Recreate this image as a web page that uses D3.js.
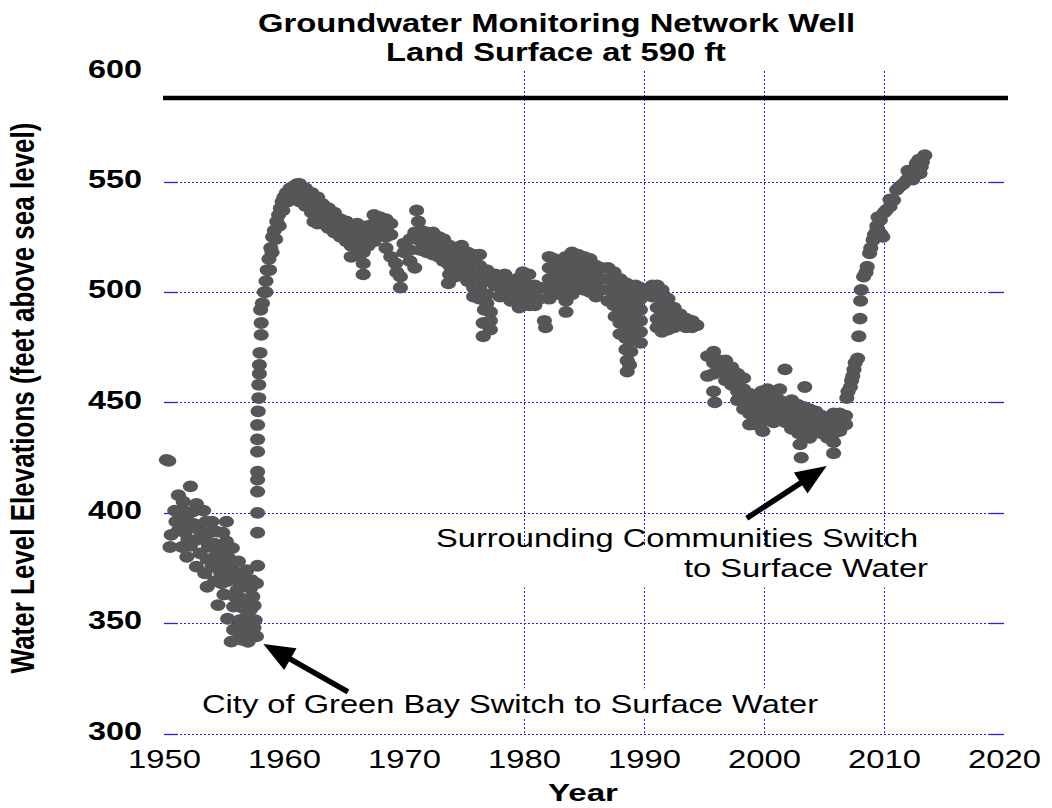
<!DOCTYPE html>
<html lang="en">
<head>
<meta charset="UTF-8">
<title>Groundwater Monitoring Network Well</title>
<script src="https://d3js.org/d3.v7.min.js"></script>
<style>
  body { margin: 0; background: #fff; font-family: Arial, "Liberation Sans", sans-serif; }
  svg { display: block; }
  .grid line { stroke: #1c1cf0; stroke-width: 1; stroke-dasharray: 2,2; shape-rendering: crispEdges; }
  .gridEnd line { stroke: #2424e0; stroke-width: 1.3; }
</style>
</head>
<body>
<svg id="chart"></svg>
<script>
const width = 1052, height = 808;
const margin = {top: 71.4, right: 48, bottom: 74.5, left: 164};

// axis ticks and grid
const xTicks = [1950, 1960, 1970, 1980, 1990, 2000, 2010, 2020];
const yTicks = [300, 350, 400, 450, 500, 550, 600];
const gridYears = [1980, 1990, 2000, 2010];
const gridLevels = [300, 350, 400, 450, 500, 550];
const landSurface = 588;

// water level readings [year, feet above sea level]
const early = [
  [1950.2,424],[1950.4,423.5],
  [1950.9,401],[1951.2,408],[1951.6,405],[1952.2,412],[1952.4,400.5],[1952.7,404],[1953.3,401],[1954.0,396],[1955.2,396],
  [1951.3,398],[1951.9,397],[1951.2,392],[1952.0,393],[1950.6,390],[1951.75,391],[1953.0,392],[1954.4,391.5],
  [1950.5,384.5],[1951.5,384.5],[1952.2,385],[1952.7,387.7],[1953.3,388],[1953.7,384.6],[1954.2,386],[1955.0,383],[1955.2,387],
  [1951.9,380],[1953.0,381.6],[1954.4,381],[1955.4,379.4],[1953.6,379],[1954.6,377],[1955.5,375],
  [1952.7,375.6],[1954.0,375.6],[1953.4,372.6],[1954.7,373.3],[1955.8,371],[1956.6,371],[1957.3,369.5],[1956.9,374],[1956.2,369],
  [1953.6,366.5],[1954.8,368],[1956.1,365],[1956.8,367],[1957.2,365.8],[1957.7,368],
  [1955.9,362],[1957.4,362],[1957.0,360],[1954.5,358.2],[1955.8,357.5],[1956.5,357],[1957.2,356],[1957.5,358],
  [1956.3,351.4],[1957.6,351.4],[1956.9,349],[1955.8,347],[1956.2,346],[1957.2,345.4],
  [1955.6,341.6],[1956.5,342.4],[1957.0,341.5],[1957.7,344],
  [1951.0,396],[1951.6,401],[1952.5,395],[1953.5,396],[1952.0,388],[1953.8,391],[1954.9,391],[1955.7,384],
  [1956.2,378],[1956.0,373],[1955.2,369],[1954.2,369],[1955.0,363],[1956.6,361],[1955.3,352],[1956.9,353],[1957.5,348]
];

const rise = [
  [1957.8,376],[1957.8,391],[1957.8,400],[1957.8,409.6],[1957.8,415],[1957.8,418.6],[1957.8,427.7],[1957.8,433.3],[1957.8,439.8],
  [1957.85,446],[1957.9,452],[1957.9,458],[1957.95,463],[1957.95,467],[1958.0,472.5],[1958.1,480.6],[1958.1,486],[1958.05,492],
  [1958.2,495],[1958.35,500],[1958.5,505],[1958.6,510],[1958.75,515],[1958.9,520],[1959.05,525],[1959.2,528],[1959.4,532],
  [1959.55,535],[1959.7,538],[1959.85,541],[1960.0,543],[1960.2,545],[1960.5,547],[1960.8,548],[1961.1,549],
  [1958.5,500],[1958.8,510],[1959.0,518],[1959.3,524],[1959.6,530],[1959.9,537],[1960.3,541],[1960.7,543]
];

const plateau = [
  [1961.3,549],[1961.3,545],[1961.3,541],
  [1961.8,547],[1961.8,543],[1961.8,539],
  [1962.3,545],[1962.3,541],[1962.3,536],[1962.5,532],
  [1962.8,543],[1962.8,538],[1962.8,531],
  [1963.2,540],[1963.2,535],[1963.2,531],
  [1963.7,538],[1963.7,534],[1963.7,529],
  [1964.2,536],[1964.2,532],[1964.2,527],
  [1964.7,533],[1964.7,529],[1964.7,525],
  [1965.2,532],[1965.2,528],[1965.2,523],
  [1965.6,530],[1965.6,526],[1965.6,521],[1965.6,516],
  [1966.1,531],[1966.1,527],[1966.1,522],[1966.1,517],
  [1966.6,528],[1966.6,523],[1966.6,518],[1966.6,513],[1966.6,508],
  [1967.0,530],[1967.0,526],[1967.0,521],
  [1967.5,535],[1967.5,531],[1967.5,527],[1967.5,523],
  [1968.0,534],[1968.0,530],[1968.0,526],
  [1968.5,533],[1968.5,529],[1968.5,525],[1968.5,520],
  [1968.9,531],[1968.9,526],[1968.9,516],
  [1969.3,513],[1969.4,509],
  [1969.7,507],[1969.7,502],
  [1970.0,522],[1970.0,518],
  [1970.5,524],[1970.5,519],[1970.5,514],
  [1970.9,527],[1970.9,511],
  [1971.05,537],[1971.2,532],
  [1971.4,528],[1971.4,523],[1971.4,519],
  [1971.9,527],[1971.9,522],[1971.9,518],
  [1972.4,527],[1972.4,522],[1972.4,517],
  [1972.9,525],[1972.9,521],[1972.9,516],
  [1973.3,524],[1973.3,519],[1973.3,514],
  [1973.8,521],[1973.8,517],[1973.8,512],[1973.8,508],[1973.7,504],
  [1974.3,520],[1974.3,516],[1974.3,512],[1974.3,507],
  [1974.8,521],[1974.8,516],[1974.8,510],
  [1975.3,518],[1975.3,514],[1975.3,509],[1975.3,505],
  [1975.8,517],[1975.8,512],[1975.8,507],[1975.8,502],[1975.8,498]
];

const decline = [
  [1976.3,517],[1976.3,512],[1976.3,507],[1976.3,502],[1976.3,497],
  [1976.7,492],[1976.6,486],[1976.6,480],
  [1976.9,510],[1976.9,505],[1976.9,499],[1976.9,495],
  [1977.2,491],[1977.2,487],[1977.2,483],
  [1977.6,508],[1977.6,503],
  [1978.0,507],[1978.0,502],[1978.0,498],
  [1978.4,508],[1978.4,503],[1978.4,499],
  [1978.9,505],[1978.9,500],[1978.9,496],
  [1979.4,506],[1979.4,501],[1979.4,497],[1979.6,493],
  [1979.9,509],[1979.9,504],[1979.9,499],[1980.0,494],
  [1980.4,508],[1980.4,503],[1980.4,498],[1980.5,494],
  [1980.9,503],[1980.9,498],[1980.9,494],
  [1981.3,502],[1981.3,497],
  [1981.7,487],[1981.8,484],[1981.7,502],
  [1982.1,516],[1982.1,511],[1982.1,506],[1982.1,501],[1982.1,497],
  [1982.5,515],[1982.5,510],[1982.5,505],[1982.5,500],
  [1983.0,514],[1983.0,509],[1983.0,504],[1983.0,499],
  [1983.5,516],[1983.5,511],[1983.5,506],[1983.5,501],[1983.5,496],[1983.5,491],
  [1984.0,518],[1984.0,513],[1984.0,508],[1984.0,503],[1984.0,499],
  [1984.5,517],[1984.5,512],[1984.5,507],[1984.5,502],
  [1985.0,516],[1985.0,511],[1985.0,506],[1985.0,501],
  [1985.5,515],[1985.5,510],[1985.5,505],[1985.5,500],
  [1986.0,512],[1986.0,507],[1986.0,502],[1986.0,498],
  [1986.5,511],[1986.5,506],[1986.5,501],
  [1987.0,511],[1987.0,506],[1987.0,501],[1987.0,496],
  [1987.5,509],[1987.5,504],[1987.5,499],[1987.5,494],[1987.6,489],
  [1988.0,506],[1988.0,501],[1988.0,496],[1988.0,491],[1988.0,486],[1988.0,481],
  [1988.5,504],[1988.5,499],[1988.5,494],[1988.5,489],[1988.5,484],[1988.5,479],[1988.5,474],[1988.6,469],[1988.6,464],
  [1988.9,503],[1988.9,498],[1988.9,493],[1988.9,488],[1988.9,483],[1988.9,478],[1988.9,473],[1988.8,467],
  [1989.3,503],[1989.3,498],[1989.3,493],[1989.3,488],[1989.3,483],[1989.3,478],
  [1989.7,502],[1989.7,497],[1989.7,492],[1989.7,487],[1989.7,482],[1989.7,477],
  [1990.3,501],
  [1990.7,503],[1990.7,498],
  [1991.1,503],[1991.1,498],[1991.1,493],[1991.1,488],[1991.1,484],
  [1991.5,501],[1991.5,496],[1991.5,491],[1991.5,486],[1991.5,482],
  [1992.0,497],[1992.0,492],[1992.0,487],[1992.0,483],
  [1992.5,493],[1992.5,488],[1992.5,484],
  [1993.0,490],[1993.0,486],
  [1993.5,488],[1993.5,484],
  [1994.0,487],[1994.0,484],
  [1994.4,485]
];

const trough = [
  [1995.3,471],[1995.3,462],
  [1995.8,473],[1995.8,468],[1995.8,463],[1995.8,455],[1995.9,450],
  [1996.3,469],[1996.3,465],
  [1996.8,469],[1996.8,464],[1996.8,460],
  [1997.3,466],[1997.3,462],[1997.3,458],
  [1997.8,463],[1997.8,459],[1997.8,455],[1997.8,451],
  [1998.3,461],[1998.3,456],[1998.3,452],[1998.3,447],
  [1998.8,454],[1998.8,450],[1998.8,445],[1998.8,440],
  [1999.3,452],[1999.3,448],[1999.3,444],[1999.3,440],
  [1999.8,455],[1999.8,450],[1999.8,446],[1999.8,441],[1999.9,437],
  [2000.3,456],[2000.3,451],[2000.3,447],[2000.3,443],
  [2000.8,455],[2000.8,450],[2000.8,446],[2000.8,441],
  [2001.3,456],[2001.3,451],[2001.3,447],[2001.3,443],
  [2001.75,465],
  [2001.8,449],[2001.8,445],[2001.8,441],
  [2002.3,451],[2002.3,446],[2002.3,442],[2002.3,438],
  [2002.8,449],[2002.8,445],[2002.8,440],[2002.9,436],[2003.0,431],
  [2003.1,425],[2003.4,457],
  [2003.3,448],[2003.3,444],[2003.3,440],[2003.3,435],
  [2003.8,447],[2003.8,443],[2003.8,438],[2003.8,434],
  [2004.3,446],[2004.3,441],[2004.3,437],
  [2004.8,444],[2004.8,440],[2004.8,436],
  [2005.3,443],[2005.3,439],[2005.3,434],
  [2005.8,445],[2005.8,440],[2005.8,436],[2005.8,432],[2005.8,427],
  [2006.3,445],[2006.3,441],[2006.3,437],
  [2006.8,444],[2006.8,440]
];

const recovery = [
  [2006.9,452],[2007.0,455],[2007.2,457],[2007.3,460],[2007.4,462],[2007.5,465],[2007.6,468],[2007.8,470],
  [2007.9,480],[2008.0,488],[2008.05,496],[2008.1,501],
  [2008.3,507],[2008.5,509],[2008.6,511.5],[2008.8,517.6],[2008.9,520],[2009.1,523.6],[2009.2,526],[2009.4,528],
  [2009.4,530],[2009.5,534],[2009.7,532.7],[2009.7,526.6],[2009.9,525],[2010.0,536],[2010.2,537.2],[2010.5,538.7],
  [2010.5,542],[2010.8,541.7],[2011.05,546.3],[2011.3,547.8],[2011.6,549],[2011.9,550.8],[2012.0,555],[2012.2,553.8],
  [2012.4,551],[2012.5,555],[2012.7,558.4],[2012.9,560],[2013.0,553.8],[2013.1,556.8],[2013.2,559],[2013.4,562]
];

const readings = [].concat(early, rise, plateau, decline, trough, recovery);

const svg = d3.select("#chart")
    .attr("width", width)
    .attr("height", height);

const x = d3.scaleLinear()
    .domain([1950, 2020])
    .range([margin.left, width - margin.right]);

const y = d3.scaleLinear()
    .domain([300, 600])
    .range([height - margin.bottom, margin.top]);

// grid
const grid = svg.append("g").attr("class", "grid");
grid.selectAll(".h").data(gridLevels).enter().append("line")
    .attr("x1", x(1950)).attr("x2", x(2020))
    .attr("y1", d => Math.round(y(d)) + 0.5).attr("y2", d => Math.round(y(d)) + 0.5);
grid.selectAll(".v").data(gridYears).enter().append("line")
    .attr("x1", d => Math.round(x(d)) + 0.5).attr("x2", d => Math.round(x(d)) + 0.5)
    .attr("y1", y(600)).attr("y2", y(300));

// short solid tick segments at both ends of horizontal grid lines
const ends = svg.append("g").attr("class", "gridEnd");
gridLevels.forEach(v => {
    const yy = Math.round(y(v)) + 0.5;
    ends.append("line").attr("x1", x(1950)).attr("x2", x(1950) + 14).attr("y1", yy).attr("y2", yy);
    ends.append("line").attr("x1", x(2020) - 14).attr("x2", x(2020)).attr("y1", yy).attr("y2", yy);
});

// land surface
svg.append("line")
    .attr("x1", x(1950) - 1).attr("x2", x(2020) + 4)
    .attr("y1", y(landSurface)).attr("y2", y(landSurface))
    .attr("stroke", "#000").attr("stroke-width", 4.5);

// axes
const xAxis = svg.append("g")
    .attr("transform", `translate(0,${y(300)})`)
    .call(d3.axisBottom(x).tickValues(xTicks).tickSize(0).tickPadding(17).tickFormat(d3.format("d")));
xAxis.select(".domain").remove();
xAxis.selectAll("text")
    .attr("font-size", 25).attr("font-family", "Arial, 'Liberation Sans', sans-serif")
    .attr("fill", "#000")
    .attr("textLength", 73).attr("lengthAdjust", "spacingAndGlyphs");

const yAxis = svg.append("g")
    .attr("transform", `translate(${x(1950)},0)`)
    .call(d3.axisLeft(y).tickValues(yTicks).tickSize(0).tickPadding(22));
yAxis.select(".domain").remove();
yAxis.selectAll("text")
    .attr("font-size", 26).attr("font-weight", "bold")
    .attr("font-family", "Arial, 'Liberation Sans', sans-serif")
    .attr("fill", "#000").attr("dy", "0.22em")
    .attr("textLength", 54).attr("lengthAdjust", "spacingAndGlyphs");

// readings
svg.append("g").selectAll("ellipse")
    .data(readings)
    .enter().append("ellipse")
    .attr("cx", d => x(d[0]))
    .attr("cy", d => y(d[1]))
    .attr("rx", 7.6)
    .attr("ry", 5.9)
    .attr("fill", "#545658");

// titles
const title = svg.append("g")
    .attr("font-family", "Arial, 'Liberation Sans', sans-serif")
    .attr("font-weight", "bold").attr("font-size", 25)
    .attr("text-anchor", "middle").attr("fill", "#000");
title.append("text").attr("x", 556.5).attr("y", 32)
    .attr("textLength", 597).attr("lengthAdjust", "spacingAndGlyphs")
    .text("Groundwater Monitoring Network Well");
title.append("text").attr("x", 556).attr("y", 61)
    .attr("textLength", 340).attr("lengthAdjust", "spacingAndGlyphs")
    .text("Land Surface at 590 ft");

svg.append("text")
    .attr("x", x(1985) - 1).attr("y", 801)
    .attr("text-anchor", "middle")
    .attr("font-family", "Arial, 'Liberation Sans', sans-serif")
    .attr("font-weight", "bold").attr("font-size", 23)
    .attr("textLength", 70).attr("lengthAdjust", "spacingAndGlyphs")
    .text("Year");

svg.append("text")
    .attr("transform", "translate(34,398) scale(1.3,1) rotate(-90)")
    .attr("text-anchor", "middle")
    .attr("font-family", "Arial, 'Liberation Sans', sans-serif")
    .attr("font-weight", "bold").attr("font-size", 26)
    .text("Water Level Elevations (feet above sea level)");

// annotations
function note(lines, box) {
    const g = svg.append("g");
    g.append("rect")
        .attr("x", x(box[0])).attr("y", y(box[3]))
        .attr("width", x(box[1]) - x(box[0]))
        .attr("height", y(box[2]) - y(box[3]))
        .attr("fill", "#fff");
    lines.forEach(l => {
        g.append("text")
            .attr("x", x(l.year)).attr("y", y(l.level))
            .attr("font-family", "Arial, 'Liberation Sans', sans-serif")
            .attr("font-size", 26).attr("fill", "#000")
            .attr("textLength", l.len).attr("lengthAdjust", "spacingAndGlyphs")
            .text(l.text);
    });
}

function arrow(tail, tip) {
    const x1 = x(tail[0]), y1 = y(tail[1]), x2 = x(tip[0]), y2 = y(tip[1]);
    const a = Math.atan2(y2 - y1, x2 - x1);
    const L = 31, W = 12.5;
    const bx = x2 - L * Math.cos(a), by = y2 - L * Math.sin(a);
    svg.append("line")
        .attr("x1", x1).attr("y1", y1).attr("x2", bx + 2 * Math.cos(a)).attr("y2", by + 2 * Math.sin(a))
        .attr("stroke", "#000").attr("stroke-width", 5.5);
    svg.append("polygon")
        .attr("points", [
            [x2, y2],
            [bx + W * Math.sin(a), by - W * Math.cos(a)],
            [bx - W * Math.sin(a), by + W * Math.cos(a)]
        ].map(p => p.join(",")).join(" "))
        .attr("fill", "#000");
}

note([{text: "City of Green Bay Switch to Surface Water", year: 1953.17, level: 309.3, len: 616}],
     [1952.83, 2004.83, 306.6, 320.5]);
note([{text: "Surrounding Communities Switch", year: 1972.67, level: 384.5, len: 482},
      {text: "to Surface Water", year: 1993.33, level: 370.9, len: 244}],
     [1972.33, 2014.0, 366.1, 385.2]);

arrow([1965.33, 318.9], [1958.28, 340.6]);
arrow([1998.56, 397.5], [2005.22, 421.2]);
</script>
</body>
</html>
